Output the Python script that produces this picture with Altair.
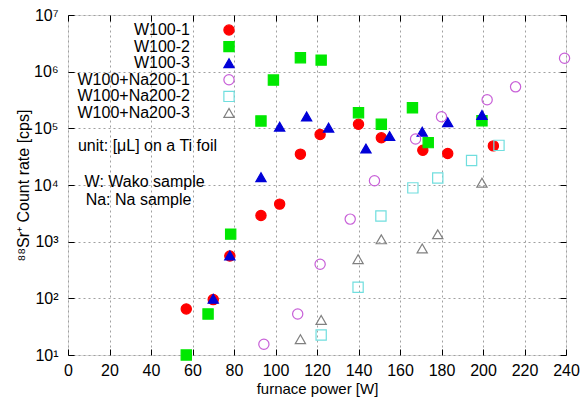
import altair as alt
import pandas as pd

# ---- data ----
w1_x = [57, 70, 78, 93, 102, 112, 121.5, 140, 151, 171, 183, 205]
w1_y = [65, 95, 560, 2900, 4600, 3.5e4, 7.8e4, 1.18e5, 6.8e4, 4.1e4, 3.6e4, 4.9e4]

w2_x = [57, 67.5, 78.4, 93, 99, 112, 122, 140, 151, 166, 173.6, 199.5]
w2_y = [10, 53, 1360, 1.35e5, 7.1e5, 1.76e6, 1.6e6, 1.89e5, 1.18e5, 2.3e5, 5.6e4, 1.36e5]

w3_x = [70, 78, 93, 102, 115, 125.6, 143.6, 155, 170.7, 183, 199.5]
w3_y = [98, 570, 1.37e4, 1.07e5, 1.62e5, 1.03e5, 4.4e4, 7.3e4, 8.7e4, 1.28e5, 1.72e5]

n1_x = [94.4, 110.7, 121.5, 136, 147.7, 167.5, 180, 202, 215.7, 239.3]
n1_y = [15.5, 53, 400, 2500, 1.19e4, 6.5e4, 1.6e5, 3.2e5, 5.4e5, 1.72e6]

n2_x = [122, 139.8, 150.8, 166.2, 178.2, 194.5, 207.7]
n2_y = [22.5, 157, 2840, 8900, 1.33e4, 2.7e4, 5e4]

n3_x = [112, 122, 139.8, 151, 170.7, 178.2, 199.5]
n3_y = [19, 41.5, 490, 1100, 760, 1350, 1.1e4]

series_names = ["W100-1", "W100-2", "W100-3",
                "W100+Na200-1", "W100+Na200-2", "W100+Na200-3"]
stroke_colors = ["#ff0000", "#00e800", "#0000d8", "#c860d8", "#70dede", "#808080"]
fill_colors = ["#ff0000", "#00e800", "#0000d8", "transparent", "transparent", "transparent"]
shapes = ["circle", "square", "triangle-up", "circle", "square", "triangle-up"]

x_ticks = list(range(0, 241, 20))
y_ticks = [1e1, 1e2, 1e3, 1e4, 1e5, 1e6, 1e7]

notes = ["unit: [\u03bcL] on a Ti foil", "W: Wako sample", "Na: Na sample"]
notes_x = [4.8, 8.0, 8.5]
notes_y = [4.9e4, 1.15e4, 5.5e3]

# ---- build tables ----
rows = []
for name, xs, ys in zip(series_names,
                        [w1_x, w2_x, w3_x, n1_x, n2_x, n3_x],
                        [w1_y, w2_y, w3_y, n1_y, n2_y, n3_y]):
    for a, b in zip(xs, ys):
        rows.append({"series": name, "power": a, "rate": b})
df = pd.DataFrame(rows)
notes_df = pd.DataFrame({"text": notes, "power": notes_x, "rate": notes_y})

FONT = "Liberation Sans"

xscale = alt.Scale(domain=[0, 240], nice=False)
yscale = alt.Scale(type="log", domain=[10, 1e7], nice=False)

sup = "['\u2070','\u00b9','\u00b2','\u00b3','\u2074','\u2075','\u2076','\u2077']"

points = alt.Chart(df).mark_point(size=105, strokeWidth=1.2, opacity=1).encode(
    x=alt.X("power:Q", scale=xscale,
            axis=alt.Axis(values=x_ticks, title="furnace power [W]", orient="bottom",
                          grid=True, gridDash=[2, 3], gridColor="#a0a0a0",
                          domain=False, ticks=True, tickSize=6, offset=-6,
                          tickColor="#000", labelPadding=7, labelFlush=False,
                          labelFontSize=16, titleFontSize=15, labelFont=FONT,
                          titleFont=FONT, titleFontWeight="normal",
                          labelColor="#000", titleColor="#000", titlePadding=3)),
    y=alt.Y("rate:Q", scale=yscale,
            axis=alt.Axis(values=y_ticks, title="\u2078\u2078Sr\u207a Count rate [cps]",
                          orient="left",
                          labelExpr="'10' + " + sup + "[round(log(datum.value)/LN10)]",
                          grid=True, gridDash=[2, 3], gridColor="#a0a0a0",
                          domain=False, ticks=True, tickSize=6, offset=-6,
                          tickColor="#000", labelPadding=10, labelFlush=False,
                          labelFontSize=16, titleFontSize=16, labelFont=FONT,
                          titleFont=FONT, titleFontWeight="normal",
                          labelColor="#000", titleColor="#000", titlePadding=2)),
    fill=alt.Fill("series:N", scale=alt.Scale(domain=series_names, range=fill_colors),
                  legend=alt.Legend(title=None, orient="none", legendX=153, legendY=7,
                                    labelAlign="right", labelOffset={"expr": "-47"},
                                    labelFontSize=16, labelFont=FONT, labelColor="#000",
                                    symbolSize=105, symbolStrokeWidth=1.2,
                                    rowPadding=0.6, padding=0, labelLimit=300)),
    stroke=alt.Stroke("series:N", scale=alt.Scale(domain=series_names, range=stroke_colors)),
    shape=alt.Shape("series:N", scale=alt.Scale(domain=series_names, range=shapes)),
)

texts = alt.Chart(notes_df).mark_text(align="left", baseline="middle", fontSize=16,
                                      font=FONT, color="#000").encode(
    x=alt.X("power:Q", scale=xscale,
            axis=alt.Axis(values=x_ticks, orient="top", labels=False, title=None,
                          grid=False, domain=False, ticks=True, tickSize=6, offset=-6,
                          tickColor="#000")),
    y=alt.Y("rate:Q", scale=yscale,
            axis=alt.Axis(values=y_ticks, orient="right", labels=False, title=None,
                          grid=False, domain=False, ticks=True, tickSize=6, offset=-6,
                          tickColor="#000")),
    text="text:N",
)

chart = alt.layer(points, texts).resolve_axis(x="independent", y="independent").properties(
    width=498, height=340,
    autosize=alt.AutoSizeParams(type="none"),
    padding={"left": 60, "top": 7, "right": 14, "bottom": 42},
).configure_view(stroke="#000", strokeWidth=1.5).configure(background="white")

chart.save("out.html", embed_options={"renderer": "svg", "actions": False})
